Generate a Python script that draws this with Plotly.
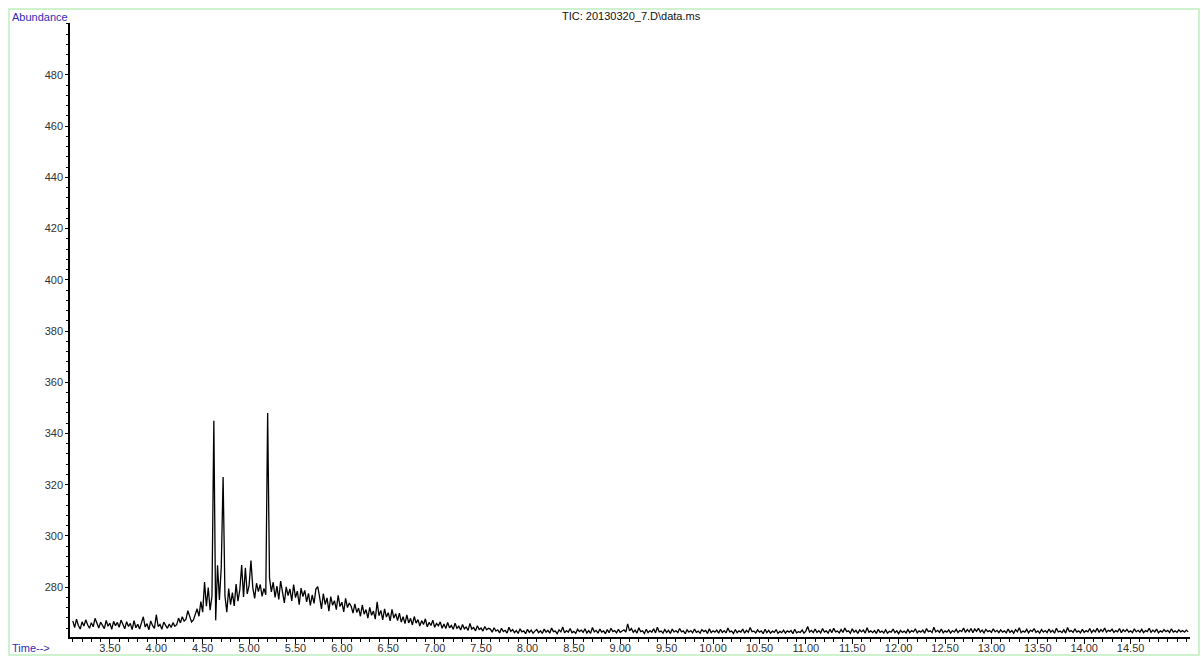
import plotly.graph_objects as go

# ---- data ----
scan_start = 3.10   # min
scan_step = 0.02    # min

baseline_early = [
    266.8, 264.2, 267.5, 265.0, 263.6, 266.4, 264.8, 267.2, 265.3, 263.9, 266.1, 264.5, 267.8, 265.6, 264.0, 266.3, 265.1, 263.8, 267.0, 264.7, 265.9, 263.5, 266.6, 264.9, 266.2,
    264.3, 267.1, 265.2, 263.7, 266.5, 264.6, 265.8, 263.4, 266.9, 264.1, 265.5, 263.6, 266.0, 268.4, 264.4, 265.7, 263.3, 266.8, 264.9, 263.9, 269.2, 264.6, 265.4, 263.5, 266.3,
]
rise = [
    264.8, 263.9, 265.6, 264.2, 266.1, 264.7, 265.3, 267.9, 266.0, 268.4, 266.7, 267.5, 270.8, 268.9, 266.4, 267.2, 269.0, 271.5, 268.6, 274.3, 270.2, 282.0, 272.5, 279.8, 271.0,
]
peak_region = [
    276.5, 345.0, 267.0, 288.5, 275.0, 287.8, 323.0, 276.5, 270.2, 279.4, 273.1, 277.8, 272.6, 281.2, 274.5, 278.9, 288.6, 276.1, 287.5, 277.3, 280.6, 290.4, 279.8, 275.6, 281.5,
    278.2, 281.0, 276.4, 279.5, 277.0, 348.0, 283.6, 278.1, 281.9, 276.0, 280.4, 275.2, 282.3, 277.6, 273.8, 280.1, 276.7, 279.3, 274.6, 281.0, 275.9, 278.4, 273.1, 279.6, 276.3,
]
tail = [
    278.7, 274.2, 277.5, 272.8, 276.9, 273.6, 279.2, 280.2, 276.1, 271.5, 277.4, 273.2, 275.8, 270.6, 276.3, 272.9, 274.7, 271.2, 276.8, 272.4, 274.1, 270.3, 275.6, 272.0, 273.8,
    272.5, 269.8, 273.4, 270.1, 271.8, 268.6, 273.0, 269.4, 271.2, 267.9, 272.1, 269.0, 270.6, 267.5, 274.2, 268.8, 270.9, 267.2, 271.5, 268.3, 270.0, 266.8, 271.3, 267.9, 269.6,
    266.9, 269.8, 266.3, 268.4, 265.7, 269.1, 266.0, 267.8, 265.2, 268.5, 265.9, 267.3, 264.8, 266.9, 265.4, 267.6, 264.5, 266.2, 265.0, 267.1, 264.3, 265.8, 264.9, 266.4, 263.9,
    265.6, 263.8, 266.2, 264.1, 265.0, 263.5, 265.9, 263.9, 264.7, 263.2, 265.4, 263.7, 264.4, 263.1, 265.8, 263.6, 264.2, 262.9, 264.9, 263.4, 264.0, 262.8, 264.6, 263.3, 263.9,
]
baseline_late = [
    263.6, 262.4, 264.1, 262.8, 263.3, 262.1, 263.9, 262.6, 263.1, 262.0, 264.3, 262.7, 263.4, 262.2, 263.0, 261.9, 263.7, 262.5, 262.9, 261.8, 263.5, 262.3, 263.2, 262.0, 262.8,
    263.4, 262.2, 262.9, 261.9, 263.6, 262.4, 263.1, 262.0, 264.0, 262.6, 262.8, 261.8, 263.3, 262.5, 264.4, 262.1, 263.0, 262.4, 263.8, 262.2, 262.7, 261.9, 263.5, 262.6, 263.2,
    262.3, 263.7, 262.1, 263.0, 261.9, 264.2, 262.5, 263.1, 262.0, 263.6, 262.4, 262.9, 261.8, 263.4, 262.2, 263.9, 262.6, 263.0, 262.1, 263.5, 262.3, 262.8, 263.3, 262.4, 265.6,
    262.9, 263.8, 262.3, 263.2, 262.0, 264.1, 262.6, 262.9, 261.9, 263.5, 262.2, 263.0, 262.4, 263.7, 262.1, 264.3, 262.5, 262.8, 262.0, 263.4, 262.3, 263.1, 261.9, 263.6, 262.4,
    263.0, 262.2, 263.8, 262.5, 262.9, 261.8, 263.3, 262.4, 263.0, 262.1, 263.6, 262.3, 262.8, 262.0, 263.4, 262.6, 263.1, 261.9, 263.7, 262.2, 262.9, 262.4, 263.2, 262.0, 263.5,
    262.3, 263.0, 262.1, 264.0, 262.5, 262.8, 261.9, 263.4, 262.2, 262.9, 262.4, 263.6, 262.0, 263.1, 262.3, 264.2, 262.6, 262.8, 262.1, 263.3, 262.4, 262.9, 261.8, 263.5, 262.2,
    263.1, 262.0, 262.8, 262.3, 263.4, 261.9, 262.7, 262.2, 263.2, 262.0, 262.9, 262.4, 263.0, 261.8, 263.5, 262.1, 262.6, 262.3, 263.3, 262.0, 262.8, 264.6, 262.4, 263.1, 262.2,
    263.6, 262.3, 263.0, 262.1, 263.8, 262.4, 262.9, 262.0, 263.5, 262.2, 263.9, 262.5, 262.8, 262.1, 263.4, 262.3, 264.0, 262.6, 262.9, 262.0, 263.7, 262.4, 263.1, 261.9, 263.3,
    262.5, 263.2, 262.0, 264.1, 262.4, 262.9, 262.2, 263.0, 261.9, 263.5, 262.3, 262.8, 262.1, 263.3, 262.0, 262.7, 262.4, 263.6, 262.2, 262.9, 261.8, 263.1, 262.3, 262.8, 262.1,
    263.4, 262.2, 263.0, 262.5, 263.7, 262.1, 262.9, 262.4, 263.2, 262.0, 263.8, 262.6, 262.9, 262.2, 264.3, 262.5, 263.1, 262.3, 263.6, 262.1, 262.9, 262.4, 263.3, 262.0, 263.0,
    262.4, 263.5, 262.2, 263.1, 262.6, 264.0, 262.3, 263.4, 262.5, 263.8, 262.2, 263.6, 262.7, 263.9, 262.4, 263.2, 262.1, 263.5, 262.6, 263.0, 262.3, 263.7, 262.5, 263.1, 262.2,
    263.3, 262.4, 262.9, 262.1, 263.6, 262.3, 263.0, 262.0, 263.4, 262.5, 264.1, 262.2, 262.8, 262.4, 263.5, 262.1, 263.2, 262.6, 263.8, 262.3, 262.9, 262.0, 263.4, 262.4, 263.0,
    262.2, 263.6, 262.4, 263.1, 262.0, 263.9, 262.5, 262.8, 262.2, 263.3, 262.0, 264.2, 262.6, 263.0, 262.3, 263.7, 262.4, 262.9, 262.1, 263.5, 262.3, 263.0, 262.5, 263.8, 262.2,
    263.2, 262.5, 263.9, 262.3, 263.4, 262.6, 264.0, 262.4, 263.1, 262.7, 263.6, 262.3, 263.0, 262.5, 263.8, 262.2, 263.3, 262.6, 263.5, 262.4, 262.9, 262.2, 263.7, 262.5, 263.1,
    262.4, 263.5, 262.2, 263.0, 262.6, 263.9, 262.3, 263.2, 262.5, 263.6, 262.1, 262.9, 262.4, 263.4, 262.6, 263.1, 262.2, 263.7, 262.4, 262.9, 262.3, 263.3, 262.5, 263.0, 262.4,
    263.2, 262.5,
]

x_tick_values = [3.5, 4.0, 4.5, 5.0, 5.5, 6.0, 6.5, 7.0, 7.5, 8.0, 8.5, 9.0, 9.5, 10.0,
                 10.5, 11.0, 11.5, 12.0, 12.5, 13.0, 13.5, 14.0, 14.5]
x_tick_labels = ["3.50", "4.00", "4.50", "5.00", "5.50", "6.00", "6.50", "7.00", "7.50",
                 "8.00", "8.50", "9.00", "9.50", "10.00", "10.50", "11.00", "11.50",
                 "12.00", "12.50", "13.00", "13.50", "14.00", "14.50"]
y_tick_values = [280, 300, 320, 340, 360, 380, 400, 420, 440, 460, 480]
y_tick_labels = ["280", "300", "320", "340", "360", "380", "400", "420", "440", "460", "480"]

title_text = "TIC: 20130320_7.D\\data.ms"

# ---- build ----
abundance = baseline_early + rise + peak_region + tail + baseline_late
times = [round(scan_start + i * scan_step, 4) for i in range(len(abundance))]

W, H = 1201, 657
ML, MR, MT, MB = 70, 11, 23, 20
PW, PH = W - ML - MR, H - MT - MB

def px_x(px):
    return (px - ML) / PW

def px_y(py):
    return (H - MB - py) / PH

font_family = "Liberation Sans, Arial, sans-serif"
label_blue = "#2d2db8"

fig = go.Figure()
fig.add_trace(go.Scatter(
    x=times, y=abundance, mode="lines",
    line=dict(color="#000000", width=1.3),
    hoverinfo="x+y", showlegend=False,
))

fig.update_layout(
    width=W, height=H,
    margin=dict(l=ML, r=MR, t=MT, b=MB, pad=0, autoexpand=False),
    paper_bgcolor="white", plot_bgcolor="white",
    font=dict(family=font_family, size=11, color="#333333"),
    showlegend=False,
)

fig.update_xaxes(
    range=[3.07, 15.14], automargin=False,
    tickmode="array", tickvals=x_tick_values, ticktext=x_tick_labels,
    ticks="outside", ticklen=5, tickwidth=1, tickcolor="black",
    ticklabelstandoff=-5,
    minor=dict(tickmode="linear", tick0=0, dtick=0.1, ticks="outside",
               ticklen=3, tickwidth=1, tickcolor="black", showgrid=False),
    showline=True, linecolor="black", linewidth=1.5,
    showgrid=False, zeroline=False,
    tickfont=dict(size=11, color="#333333"),
)
fig.update_yaxes(
    range=[260.5, 500.3], automargin=False,
    tickmode="array", tickvals=y_tick_values, ticktext=y_tick_labels,
    ticks="outside", ticklen=3, tickwidth=1, tickcolor="black",
    minor=dict(tickmode="linear", tick0=0, dtick=4, ticks="outside",
               ticklen=2, tickwidth=1, tickcolor="black", showgrid=False),
    showline=True, linecolor="black", linewidth=1.5,
    showgrid=False, zeroline=False,
    tickfont=dict(size=11, color="#333333"),
)

# light green outer frame
fig.add_shape(type="rect", xref="paper", yref="paper",
              x0=px_x(9), x1=px_x(1199), y0=px_y(655), y1=px_y(9),
              line=dict(color="#bfeebf", width=1.5), fillcolor="rgba(0,0,0,0)",
              layer="below")

fig.add_annotation(text=title_text, xref="paper", yref="paper",
                   x=px_x(631), y=px_y(16), xanchor="center", yanchor="middle",
                   showarrow=False, font=dict(size=11, color="#111111", family=font_family))
fig.add_annotation(text="Abundance", xref="paper", yref="paper",
                   x=px_x(10), y=px_y(17), xanchor="left", yanchor="middle",
                   showarrow=False, font=dict(size=11, color=label_blue, family=font_family))
fig.add_annotation(text="Time-->", xref="paper", yref="paper",
                   x=px_x(10), y=px_y(648), xanchor="left", yanchor="middle",
                   showarrow=False, font=dict(size=11, color=label_blue, family=font_family))

fig.write_html("out.html")
